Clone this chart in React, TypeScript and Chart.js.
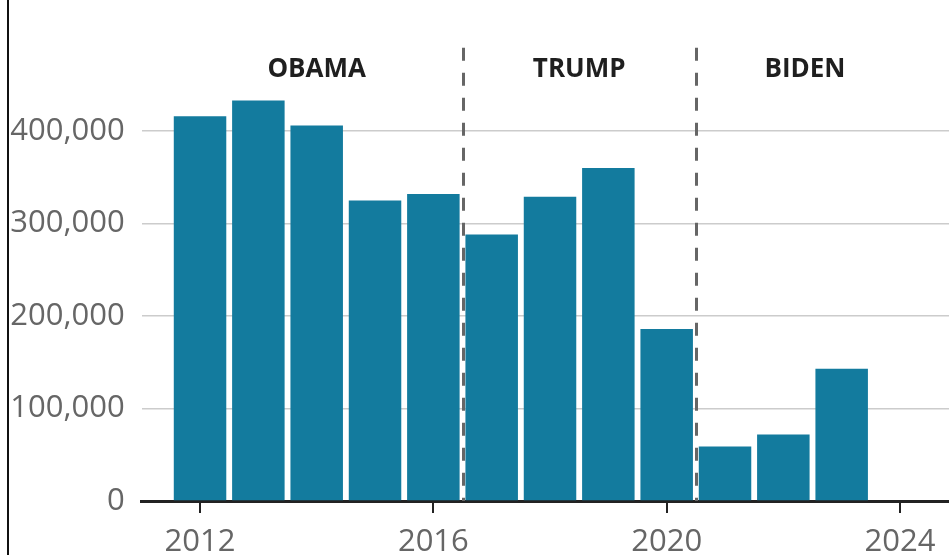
import React, { useEffect, useRef } from "react";
import { Chart, registerables } from "chart.js";

Chart.register(...registerables);

const years = [2012, 2013, 2014, 2015, 2016, 2017, 2018, 2019, 2020, 2021, 2022, 2023];
const values = [416000, 433000, 406000, 325000, 332000, 288000, 329000, 360000, 186000, 59000, 72000, 143000];
const xTicks = [2012, 2016, 2020, 2024];
const yTicks = [0, 100000, 200000, 300000, 400000];
const eraNames = ["OBAMA", "TRUMP", "BIDEN"];
const eraCenters = [2014, 2018.5, 2022.37];
const eraDividers = [2016.5, 2020.5];

const FONT = "'Open Sans', 'Noto Sans', sans-serif";

const overlay = {
  id: "overlay",
  afterDatasetsDraw(chart: any) {
    const { ctx, chartArea, scales } = chart;
    const x = scales.x;
    ctx.save();
    ctx.strokeStyle = "#666666";
    ctx.lineWidth = 3;
    ctx.setLineDash([13, 12]);
    eraDividers.forEach((v) => {
      const px = Math.round(x.getPixelForValue(v)) + 0.5;
      ctx.beginPath();
      ctx.moveTo(px, chartArea.top);
      ctx.lineTo(px, chartArea.bottom);
      ctx.stroke();
    });
    ctx.setLineDash([]);
    ctx.fillStyle = "#1f1f1f";
    ctx.font = `bold 26px ${FONT}`;
    ctx.textAlign = "center";
    ctx.textBaseline = "middle";
    eraNames.forEach((n, i) => {
      ctx.fillText(n, x.getPixelForValue(eraCenters[i]), 70);
    });
    ctx.fillStyle = "#111111";
    ctx.fillRect(7, 0, 2, chart.height);
    ctx.restore();
  },
};

export default function App() {
  const ref = useRef<HTMLCanvasElement>(null);
  useEffect(() => {
    if (!ref.current) return;
    const chart = new Chart(ref.current, {
      type: "bar",
      data: {
        datasets: [
          {
            data: years.map((y, i) => ({ x: y, y: values[i] })),
            backgroundColor: "#137b9e",
            borderWidth: 0,
            barPercentage: 0.9,
            categoryPercentage: 1,
          },
        ],
      },
      options: {
        animation: false,
        responsive: false,
        maintainAspectRatio: false,
        layout: { padding: { top: 47.75, right: 0, left: 0, bottom: 0 } },
        plugins: { legend: { display: false }, tooltip: { enabled: false } },
        scales: {
          x: {
            type: "linear",
            min: 2011,
            max: 2024.84,
            offset: false,
            afterBuildTicks: (s: any) => {
              s.ticks = xTicks.map((v) => ({ value: v }));
            },
            afterFit: (s: any) => {
              s.height = 54;
            },
            grid: {
              offset: false,
              drawOnChartArea: false,
              drawTicks: true,
              tickLength: 12,
              color: "#222222",
              lineWidth: 2,
            },
            border: { display: true, color: "#222222", width: 3 },
            ticks: {
              color: "#666666",
              font: { family: FONT, size: 31 },
              padding: 11,
              maxRotation: 0,
              autoSkip: false,
              callback: (v: any) => String(v),
            },
          },
          y: {
            min: 0,
            max: 490000,
            afterBuildTicks: (s: any) => {
              s.ticks = yTicks.map((v) => ({ value: v }));
            },
            afterFit: (s: any) => {
              s.width = 141.7;
            },
            grid: { color: "#cccccc", lineWidth: 1.5, drawTicks: false },
            border: { display: false },
            ticks: {
              color: "#666666",
              font: { family: FONT, size: 31 },
              padding: 17,
              callback: (v: any) => Number(v).toLocaleString("en-US"),
            },
          },
        },
      },
      plugins: [overlay],
    });
    return () => chart.destroy();
  }, []);
  return (
    <div style={{ position: "fixed", left: 0, top: 0, width: 949, height: 555, background: "#fff" }}>
      <canvas ref={ref} width={949} height={555} style={{ display: "block", width: 949, height: 555 }} />
    </div>
  );
}
